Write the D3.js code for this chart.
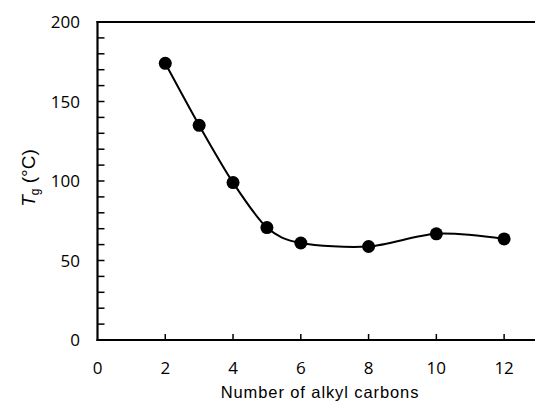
<!DOCTYPE html>
<html>
<head>
<meta charset="utf-8">
<script src="https://cdn.jsdelivr.net/npm/d3@7"></script>
<style>
  body { margin: 0; background: #fff; }
  text { fill: #000; }
</style>
</head>
<body>
<div id="chart"></div>
<script>
var carbons = [2, 3, 4, 5, 6, 8, 10, 12];
var tg = [174, 135, 99, 70.7, 61, 58.8, 66.8, 63.6];
var xTicks = [0, 2, 4, 6, 8, 10, 12];
var yTicks = [0, 50, 100, 150, 200];

var width = 535, height = 403;
var svg = d3.select("#chart").append("svg")
    .attr("width", width)
    .attr("height", height);

var x = d3.scaleLinear().domain([0, 13]).range([97.5, 538]);
var y = d3.scaleLinear().domain([0, 200]).range([340, 22]);

// minor ticks on y, every 10
svg.append("g").selectAll("line")
  .data(d3.range(10, 200, 10))
  .enter().append("line")
    .attr("x1", x(0)).attr("x2", x(0) + 7)
    .attr("y1", function(d) { return y(d); })
    .attr("y2", function(d) { return y(d); })
    .attr("stroke", "#000").attr("stroke-width", 1.5);

// x ticks
svg.append("g").selectAll("line")
  .data(xTicks.slice(1))
  .enter().append("line")
    .attr("x1", function(d) { return x(d); })
    .attr("x2", function(d) { return x(d); })
    .attr("y1", y(0)).attr("y2", y(0) - 6)
    .attr("stroke", "#000").attr("stroke-width", 1.5);

// frame: left, bottom, top
svg.append("line").attr("x1", x(0)).attr("x2", x(0)).attr("y1", y(0) + 1).attr("y2", y(200) - 1)
  .attr("stroke", "#000").attr("stroke-width", 2.2);
svg.append("line").attr("x1", x(0) - 1).attr("x2", width).attr("y1", y(0)).attr("y2", y(0))
  .attr("stroke", "#000").attr("stroke-width", 2.2);
svg.append("line").attr("x1", x(0) - 1).attr("x2", width).attr("y1", y(200)).attr("y2", y(200))
  .attr("stroke", "#000").attr("stroke-width", 2.2);

// tick labels
svg.append("g").selectAll("text")
  .data(yTicks)
  .enter().append("text")
    .attr("x", 80)
    .attr("y", function(d) { return y(d) + 6; })
    .attr("text-anchor", "end")
    .style("font-family", "'Open Sans', sans-serif")
    .style("font-size", "17px")
    .text(function(d) { return d; });

svg.append("g").selectAll("text")
  .data(xTicks)
  .enter().append("text")
    .attr("x", function(d) { return x(d); })
    .attr("y", 374)
    .attr("text-anchor", "middle")
    .style("font-family", "'Open Sans', sans-serif")
    .style("font-size", "17px")
    .text(function(d) { return d; });

// axis titles
svg.append("text")
  .attr("x", 320).attr("y", 398)
  .attr("text-anchor", "middle")
  .style("font-family", "'Liberation Sans', Arial, sans-serif")
  .style("font-size", "16.5px")
  .style("letter-spacing", "0.9px")
  .text("Number of alkyl carbons");

var ylab = svg.append("text")
  .attr("transform", "translate(35,178) rotate(-90)")
  .attr("text-anchor", "middle")
  .style("font-family", "'Liberation Sans', Arial, sans-serif")
  .style("font-size", "19px");
ylab.append("tspan").style("font-style", "italic").text("T");
ylab.append("tspan").attr("dy", 4).style("font-size", "12px").text("g");
ylab.append("tspan").attr("dy", -4).text(" (°C)");

// smoothed line
var pts = carbons.map(function(c, i) { return [c, tg[i]]; });
var line = d3.line()
  .x(function(d) { return x(d[0]); })
  .y(function(d) { return y(d[1]); })
  .curve(d3.curveCardinal.tension(0.1));

svg.append("path")
  .datum(pts)
  .attr("d", line)
  .attr("fill", "none")
  .attr("stroke", "#000")
  .attr("stroke-width", 2);

svg.append("g").selectAll("circle")
  .data(pts)
  .enter().append("circle")
    .attr("cx", function(d) { return x(d[0]); })
    .attr("cy", function(d) { return y(d[1]); })
    .attr("r", 6.5)
    .attr("fill", "#000");
</script>
</body>
</html>
